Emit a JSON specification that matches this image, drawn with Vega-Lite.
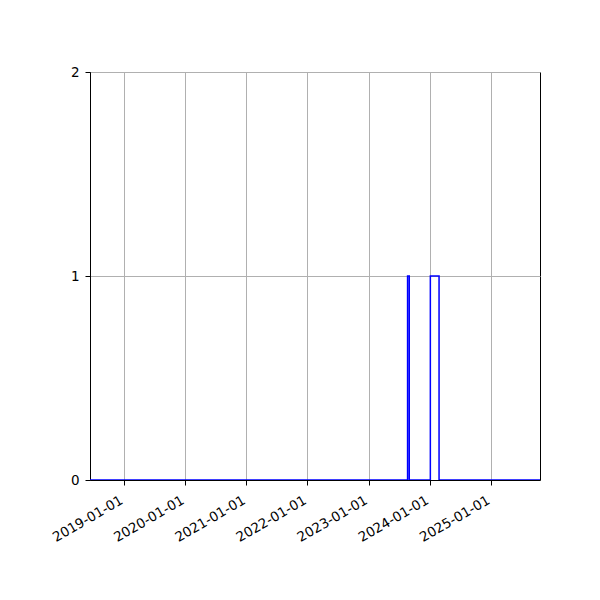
{
  "$schema": "https://vega.github.io/schema/vega-lite/v6.json",
  "width": 450,
  "height": 408,
  "autosize": {"type": "none"},
  "padding": {"left": 90, "top": 72, "right": 60, "bottom": 120},
  "background": "white",
  "config": {
    "view": {"stroke": "black", "strokeWidth": 1},
    "font": "DejaVu Sans",
    "axis": {
      "labelFont": "DejaVu Sans",
      "labelFontSize": 13.5,
      "labelColor": "black",
      "tickColor": "black",
      "tickSize": 5,
      "tickWidth": 1,
      "domainColor": "black",
      "domainWidth": 1,
      "gridColor": "#b0b0b0",
      "gridWidth": 1,
      "gridOpacity": 1,
      "labelPadding": 5,
      "labelOverlap": false,
      "labelFlush": false,
      "title": null
    }
  },
  "data": {
    "values": [
      {"date": "2018-06-12", "flag": 0},
      {"date": "2023-08-22", "flag": 1},
      {"date": "2023-09-01", "flag": 0},
      {"date": "2024-01-05", "flag": 1},
      {"date": "2024-02-26", "flag": 0},
      {"date": "2025-10-21", "flag": 0}
    ]
  },
  "mark": {"type": "line", "interpolate": "step-after", "color": "#0000ff", "strokeWidth": 1.5, "clip": true},
  "encoding": {
    "x": {
      "field": "date",
      "type": "temporal",
      "scale": {
        "type": "utc",
        "domain": [
          {"year": 2018, "month": 6, "date": 12, "utc": true},
          {"year": 2025, "month": 10, "date": 21, "utc": true}
        ],
        "nice": false
      },
      "axis": {
        "values": [
          {"year": 2019, "month": 1, "date": 1, "utc": true},
          {"year": 2020, "month": 1, "date": 1, "utc": true},
          {"year": 2021, "month": 1, "date": 1, "utc": true},
          {"year": 2022, "month": 1, "date": 1, "utc": true},
          {"year": 2023, "month": 1, "date": 1, "utc": true},
          {"year": 2024, "month": 1, "date": 1, "utc": true},
          {"year": 2025, "month": 1, "date": 1, "utc": true}
        ],
        "format": "%Y-%m-%d",
        "labelAngle": -30,
        "labelAlign": "right",
        "labelBaseline": "top",
        "labelPadding": 8,
        "labelOffset": -6,
        "grid": true
      }
    },
    "y": {
      "field": "flag",
      "type": "quantitative",
      "scale": {"domain": [0, 2], "nice": false},
      "axis": {
        "values": [0, 1, 2],
        "format": ".0f",
        "labelPadding": 6,
        "grid": true
      }
    }
  }
}
